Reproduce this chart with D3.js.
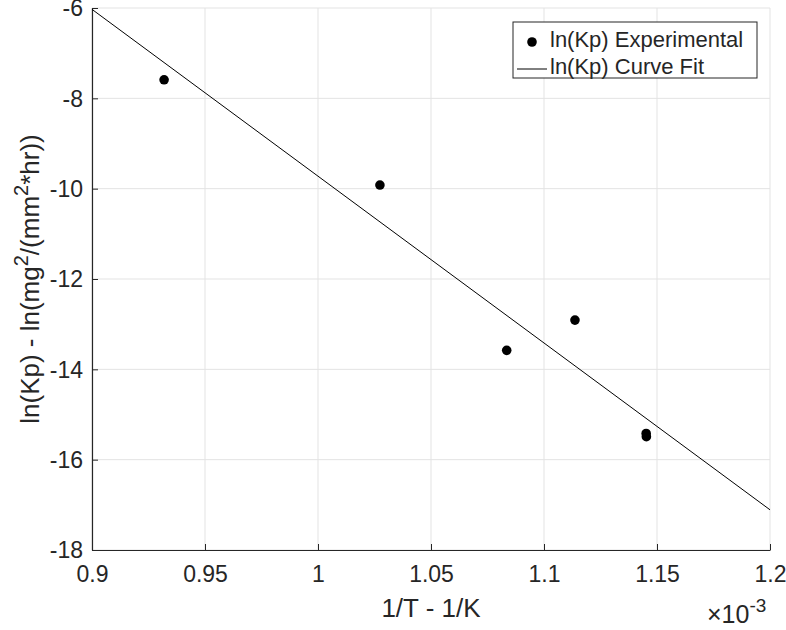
<!DOCTYPE html>
<html lang="en">
<head>
  <meta charset="UTF-8">
  <script src="https://cdnjs.cloudflare.com/ajax/libs/d3/7.8.5/d3.min.js"></script>
  <style>
    body { margin: 0; background: #fff; }
    text { font-family: "Liberation Sans", Arial, sans-serif; fill: #262626; }
  </style>
</head>
<body>
  <div id="chart"></div>
  <script>
    // measured points (x in 1e-3 /K)
    const invT = [0.9319, 1.0274, 1.0835, 1.1137, 1.1452, 1.1453];
    const lnKp = [-7.59, -9.92, -13.58, -12.91, -15.42, -15.49];
    // curve fit line end points
    const fitX = [0.9, 1.2];
    const fitY = [-6.03, -17.11];
    const xTicks = [0.9, 0.95, 1, 1.05, 1.1, 1.15, 1.2];
    const yTicks = [-18, -16, -14, -12, -10, -8, -6];

    const W = 786, H = 630;
    const margin = { top: 8, right: 16, bottom: 80, left: 92 };
    const width = W - margin.left - margin.right;
    const height = H - margin.top - margin.bottom;

    const root = d3.select('#chart').append('svg')
      .attr('width', W).attr('height', H);
    const svg = root.append('g')
      .attr('transform', `translate(${margin.left}, ${margin.top})`);

    const x = d3.scaleLinear().domain([0.9, 1.2]).range([0, width]);
    const y = d3.scaleLinear().domain([-18, -6]).range([height, 0]);

    // grid
    svg.append('g').selectAll('line').data(xTicks).join('line')
      .attr('x1', d => x(d)).attr('x2', d => x(d))
      .attr('y1', 0).attr('y2', height)
      .attr('stroke', '#e3e3e3').attr('stroke-width', 1);
    svg.append('g').selectAll('line').data(yTicks).join('line')
      .attr('x1', 0).attr('x2', width)
      .attr('y1', d => y(d)).attr('y2', d => y(d))
      .attr('stroke', '#e3e3e3').attr('stroke-width', 1);

    // axes
    const xAxis = svg.append('g')
      .attr('transform', `translate(0, ${height})`)
      .call(d3.axisBottom(x).tickValues(xTicks).tickFormat(d3.format('~g'))
        .tickSizeInner(-6).tickSizeOuter(0).tickPadding(16));
    const yAxis = svg.append('g')
      .call(d3.axisLeft(y).tickValues(yTicks).tickFormat(d => d)
        .tickSizeInner(-6).tickSizeOuter(0).tickPadding(9));
    [xAxis, yAxis].forEach(a => {
      a.select('.domain').attr('stroke', '#262626').attr('stroke-width', 1.2);
      a.selectAll('.tick line').attr('stroke', '#262626');
      a.selectAll('text').attr('font-size', 23).attr('fill', '#262626')
        .attr('font-family', '"Liberation Sans", Arial, sans-serif');
    });
    yAxis.selectAll('text').attr('dy', '0.34em');

    // fit line
    const fit = fitX.map((v, i) => [v, fitY[i]]);
    svg.append('path')
      .datum(fit)
      .attr('d', d3.line().x(d => x(d[0])).y(d => y(d[1])))
      .attr('stroke', '#000').attr('stroke-width', 1).attr('fill', 'none');

    // points
    svg.selectAll('circle.pt').data(invT.map((v, i) => [v, lnKp[i]])).join('circle')
      .attr('class', 'pt')
      .attr('cx', d => x(d[0])).attr('cy', d => y(d[1]))
      .attr('r', 4.8).attr('fill', '#000');

    // labels
    svg.append('text')
      .attr('x', width / 2).attr('y', height + 67)
      .attr('text-anchor', 'middle').attr('font-size', 26)
      .text('1/T - 1/K');

    const mult = root.append('text')
      .attr('x', 707).attr('y', 623)
      .attr('font-size', 25);
    mult.append('tspan').text('\u00d710');
    mult.append('tspan').attr('dy', -11).attr('font-size', 19).text('-3');

    const yl = root.append('text')
      .attr('transform', `translate(39, ${margin.top + height / 2}) rotate(-90)`)
      .attr('text-anchor', 'middle').attr('font-size', 26);
    yl.append('tspan').text('ln(Kp) - ln(mg');
    yl.append('tspan').attr('dy', -11).attr('font-size', 20).text('2');
    yl.append('tspan').attr('dy', 11).text('/(mm');
    yl.append('tspan').attr('dy', -11).attr('font-size', 20).text('2');
    yl.append('tspan').attr('dy', 11).text('*hr))');

    // legend
    const lg = root.append('g').attr('transform', 'translate(513, 22)');
    lg.append('rect').attr('width', 244).attr('height', 56)
      .attr('fill', '#fff').attr('stroke', '#262626').attr('stroke-width', 1);
    lg.append('circle').attr('cx', 19).attr('cy', 20).attr('r', 4.8).attr('fill', '#000');
    lg.append('line').attr('x1', 4).attr('x2', 34).attr('y1', 47).attr('y2', 47)
      .attr('stroke', '#000').attr('stroke-width', 1);
    lg.append('text').attr('x', 37).attr('y', 25).attr('font-size', 22)
      .text('ln(Kp) Experimental');
    lg.append('text').attr('x', 37).attr('y', 52).attr('font-size', 22)
      .text('ln(Kp) Curve Fit');
  </script>
</body>
</html>
